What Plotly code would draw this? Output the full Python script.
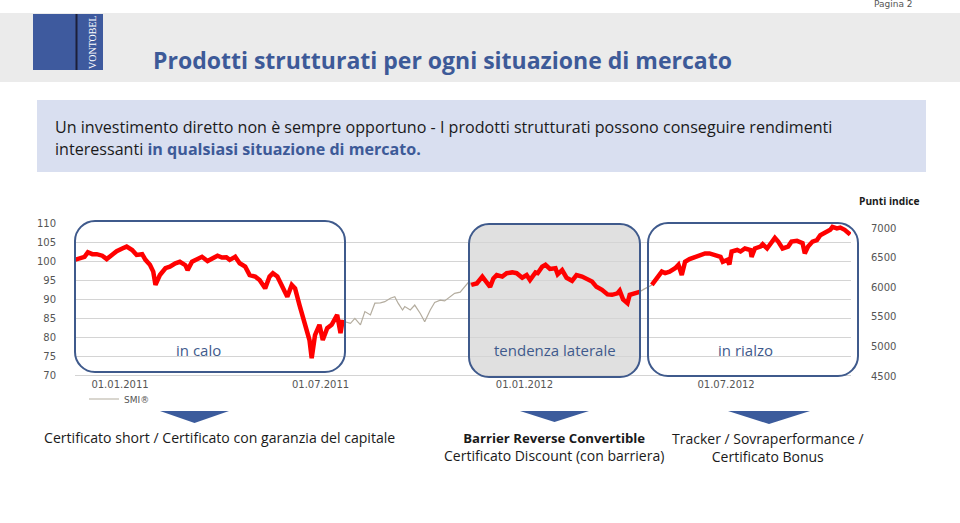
import plotly.graph_objects as go

# ---------------- data ----------------
# days since 01.01.2011 and index value (rebased, left axis)
DAYS = [-41, -36, -32, -29, -25, -21, -16, -12, -7, -3, 2, 6, 11, 15, 20, 23, 27, 30, 32, 36,
        41, 45, 50, 54, 59, 61, 65, 69, 74, 79, 83, 88, 92, 96, 99, 104, 108, 113, 117, 122,
        126, 131, 135, 138, 142, 146, 151, 155, 158, 162, 167, 171, 173, 176, 180, 183, 187, 191, 196, 199,
        201,
        203, 208, 212, 217, 221, 226, 230, 235, 239, 244, 248, 251, 255, 257, 262, 266, 271, 275, 280, 284,
        289, 293, 298, 302, 307, 311, 315,
        317, 322, 327, 329, 334, 337, 340, 345, 349, 354, 358, 363, 367, 370, 375, 377, 381, 384, 388, 393,
        395, 399, 403, 408, 412, 417, 421, 426, 430, 435, 440, 444, 449, 451, 454, 458, 460, 465, 469,
        473, 477,
        480, 485, 489, 492, 496, 501, 504, 507, 510, 514, 519, 523, 528, 532, 537, 542, 544, 548, 550, 552,
        557, 560, 564, 569, 570, 573, 578, 580, 584, 588, 591, 594, 598, 603, 606, 611, 616, 618, 621, 625,
        629, 632, 636, 641, 643, 647, 650, 654, 659]
IDX = [100.3, 100.7, 101.1, 102.3, 101.8, 101.8, 101.4, 100.5, 101.6, 102.6, 103.3, 103.8, 102.9, 101.6, 101.8, 100.3, 99.0, 97.2, 93.7, 96.3,
       98.1, 98.5, 99.4, 99.8, 98.9, 97.6, 99.8, 100.3, 101.1, 100.0, 100.7, 101.4, 100.9, 101.0, 100.3, 101.1, 99.4, 98.5, 96.3, 95.9,
       95.0, 92.8, 95.9, 96.8, 95.9, 93.7, 90.6, 93.7, 92.8, 88.4, 83.2, 79.2, 74.4, 80.5, 83.2, 79.2, 82.3, 83.2, 85.8, 81.0,
       84.5,
       84.0, 83.6, 84.9, 83.2, 86.7, 85.8, 88.9, 89.0, 89.3, 90.2, 90.6, 88.9, 87.1, 88.0, 87.1, 88.4, 86.2, 84.0, 87.1, 89.1,
       89.7, 89.5, 90.6, 91.5, 91.8, 93.2, 94.6,
       93.7, 94.1, 95.9, 95.0, 93.2, 95.4, 96.3, 95.9, 96.8, 97.0, 96.8, 95.6, 96.3, 95.0, 97.0, 96.8, 98.5, 99.0, 97.9, 98.1,
       96.5, 97.6, 95.6, 94.8, 96.3, 95.9, 95.3, 94.6, 93.2, 92.4, 91.2, 91.1, 91.5, 92.2, 89.9, 88.9, 91.1, 91.5, 91.9,
       92.6, 93.2,
       93.7, 95.9, 97.2, 96.8, 97.2, 98.1, 99.0, 96.3, 99.8, 100.5, 101.1, 101.6, 102.0, 102.0, 101.6, 101.1, 99.8, 100.3, 99.1, 102.5,
       102.9, 102.5, 103.3, 102.9, 101.1, 103.3, 103.8, 104.4, 103.3, 105.1, 106.1, 105.1, 103.3, 103.8, 105.1, 105.3, 104.7, 102.0, 103.8, 105.1,
       105.5, 106.8, 107.3, 108.2, 109.0, 108.6, 108.8, 108.2, 107.0]
BASE_POINTS = 6436  # SMI points equal to index 100
RED_PERIODS = [(-41, 201), (317, 469), (480, 659)]

X_TICK_DAYS = [0, 181, 365, 547]
X_TICK_LABELS = ["01.01.2011", "01.07.2011", "01.01.2012", "01.07.2012"]
LEFT_TICKS = [70, 75, 80, 85, 90, 95, 100, 105, 110]
RIGHT_TICKS = [4500, 5000, 5500, 6000, 6500, 7000]

BOX_LABELS = ["in calo", "tendenza laterale", "in rialzo"]
TITLE = "Prodotti strutturati per ogni situazione di mercato"
INTRO_1 = "Un investimento diretto non è sempre opportuno - I prodotti strutturati possono conseguire rendimenti"
INTRO_2a = "interessanti "
INTRO_2b = "in qualsiasi situazione di mercato."
PRODUCTS = ["Certificato short / Certificato con garanzia del capitale",
            "<span style='font-size:13.2px'><b>Barrier Reverse Convertible</b></span><br>Certificato Discount (con barriera)",
            "Tracker / Sovraperformance /<br>Certificato Bonus"]

# ---------------- layout helpers ----------------
W, H = 960, 523
PL, PR, PT, PB = 75, 851, 223, 377


def X(px):
    return (px - PL) / (PR - PL)


def Y(py):
    return (PB - py) / (PB - PT)


BLUE = "#3d5a98"
BOXBLUE = "#3f5a8c"
FONT = "Open Sans"
AXFONT = "DejaVu Sans"

fig = go.Figure()

# gray SMI line (whole series)
fig.add_trace(go.Scatter(x=DAYS, y=IDX, mode="lines", name="SMI®",
                         line=dict(color="#b4ad9f", width=1.2), hoverinfo="skip"))
# red highlighted periods
for a, b in RED_PERIODS:
    xs = [d for d in DAYS if a <= d <= b]
    ys = [v for d, v in zip(DAYS, IDX) if a <= d <= b]
    fig.add_trace(go.Scatter(x=xs, y=ys, mode="lines", showlegend=False,
                             line=dict(color="#ff0000", width=4.5), hoverinfo="skip"))
# same series in index points for the right axis
fig.add_trace(go.Scatter(x=DAYS, y=[v * BASE_POINTS / 100 for v in IDX], yaxis="y2",
                         mode="lines", opacity=0, showlegend=False, hoverinfo="skip",
                         line=dict(width=0)))

lo_left = 70 - (PB - 375) * 40 / 152
px_per_pt = 148 / 2500
fig.update_layout(
    width=W, height=H, margin=dict(l=PL, r=W - PR, t=PT, b=H - PB),
    paper_bgcolor="white", plot_bgcolor="rgba(0,0,0,0)",
    xaxis=dict(range=[(PL - 120) * 0.9025, (PR - 120) * 0.9025], tickvals=X_TICK_DAYS,
               ticktext=X_TICK_LABELS, showgrid=False, zeroline=False, showline=False,
               ticks="", tickfont=dict(family=AXFONT, size=10, color="#555")),
    yaxis=dict(range=[lo_left, 110], tickvals=LEFT_TICKS, showgrid=True, gridcolor="#d4d4d4",
               gridwidth=1, zeroline=False, showline=False, ticks="outside", ticklen=16,
               tickcolor="rgba(0,0,0,0)", tickfont=dict(family=AXFONT, size=10, color="#555")),
    yaxis2=dict(range=[4500 - (PB - 376) / px_per_pt, 7000 + (228 - PT) / px_per_pt],
                overlaying="y", side="right", tickvals=RIGHT_TICKS, showgrid=False,
                zeroline=False, showline=False, ticks="outside", ticklen=17,
                tickcolor="rgba(0,0,0,0)", tickfont=dict(family=AXFONT, size=10, color="#555")),
    showlegend=True,
    legend=dict(x=X(84), y=Y(399), xanchor="left", yanchor="middle", bgcolor="rgba(0,0,0,0)",
                font=dict(family=AXFONT, size=9, color="#555"), itemwidth=30),
)


def rrect(x0, y0, x1, y1, r):
    k = 0.45 * r
    pts = (f"M {X(x0 + r)},{Y(y0)} L {X(x1 - r)},{Y(y0)} "
           f"C {X(x1 - k)},{Y(y0)} {X(x1)},{Y(y0 + k)} {X(x1)},{Y(y0 + r)} "
           f"L {X(x1)},{Y(y1 - r)} "
           f"C {X(x1)},{Y(y1 - k)} {X(x1 - k)},{Y(y1)} {X(x1 - r)},{Y(y1)} "
           f"L {X(x0 + r)},{Y(y1)} "
           f"C {X(x0 + k)},{Y(y1)} {X(x0)},{Y(y1 - k)} {X(x0)},{Y(y1 - r)} "
           f"L {X(x0)},{Y(y0 + r)} "
           f"C {X(x0)},{Y(y0 + k)} {X(x0 + k)},{Y(y0)} {X(x0 + r)},{Y(y0)} Z")
    return pts


shapes = []
# top band
shapes.append(dict(type="rect", xref="paper", yref="paper", x0=X(0), x1=X(W), y0=Y(13), y1=Y(82),
                   fillcolor="#ebebeb", line=dict(width=0), layer="below"))
# logo
shapes.append(dict(type="rect", xref="paper", yref="paper", x0=X(33), x1=X(103), y0=Y(14), y1=Y(70),
                   fillcolor="#3e5a9e", line=dict(width=0), layer="below"))
shapes.append(dict(type="rect", xref="paper", yref="paper", x0=X(75.5), x1=X(77.5), y0=Y(14), y1=Y(70),
                   fillcolor="#1c1f38", line=dict(width=0), layer="below"))
# intro box
shapes.append(dict(type="rect", xref="paper", yref="paper", x0=X(37), x1=X(926), y0=Y(100), y1=Y(172),
                   fillcolor="#d9dff0", line=dict(width=0), layer="below"))
# highlight boxes
BOXES = [(75, 221, 345, 372, False), (469, 224, 640, 377, True), (648, 223, 858, 376, False)]
for x0, y0, x1, y1, filled in BOXES:
    if filled:
        shapes.append(dict(type="path", xref="paper", yref="paper", path=rrect(x0, y0, x1, y1, 20),
                           fillcolor="#e0e0e0", line=dict(width=0), layer="below"))
    shapes.append(dict(type="path", xref="paper", yref="paper", path=rrect(x0, y0, x1, y1, 20),
                       fillcolor="rgba(0,0,0,0)", line=dict(color=BOXBLUE, width=2), layer="above"))
# triangles
for x0, x1, y0, y1 in [(160, 229, 411, 423), (520, 589, 411, 422), (728, 810, 411, 424)]:
    shapes.append(dict(type="path", xref="paper", yref="paper",
                       path=f"M {X(x0)},{Y(y0)} L {X(x1)},{Y(y0)} L {X((x0 + x1) / 2)},{Y(y1)} Z",
                       fillcolor="#3b5b9c", line=dict(width=0)))
fig.update_layout(shapes=shapes)

ann = []


def text(t, px, py, size, color="#1a1a1a", family=FONT, xanchor="left", angle=0, **kw):
    ann.append(dict(text=t, x=X(px), y=Y(py), xref="paper", yref="paper", showarrow=False,
                    xanchor=xanchor, yanchor="middle", textangle=angle,
                    font=dict(family=family, size=size, color=color), **kw))


text("Pagina 2", 872, 4, 9, color="#555", family=AXFONT)
text("VONTOBEL", 92, 42, 10, color="white", family="Liberation Serif", xanchor="center", angle=-90)
text(f"<b>{TITLE}</b>", 151, 60, 23, color=BLUE)
text(INTRO_1, 53, 127, 16.1)
text(f"{INTRO_2a}<span style='color:{BLUE}'><b>{INTRO_2b}</b></span>", 53, 149, 16.1)
text("<b>Punti indice</b>", 857, 201, 10.2)
for lbl, cx in zip(BOX_LABELS, [198, 555, 745]):
    text(lbl, cx, 350, 15, color=BOXBLUE, xanchor="center")
text(PRODUCTS[0], 219, 437, 14.1, xanchor="center")
text(PRODUCTS[1], 554, 447, 14, xanchor="center", align="center")
text(PRODUCTS[2], 768, 447, 14, xanchor="center", align="center")
fig.update_layout(annotations=ann)

fig.write_html("out.html")
